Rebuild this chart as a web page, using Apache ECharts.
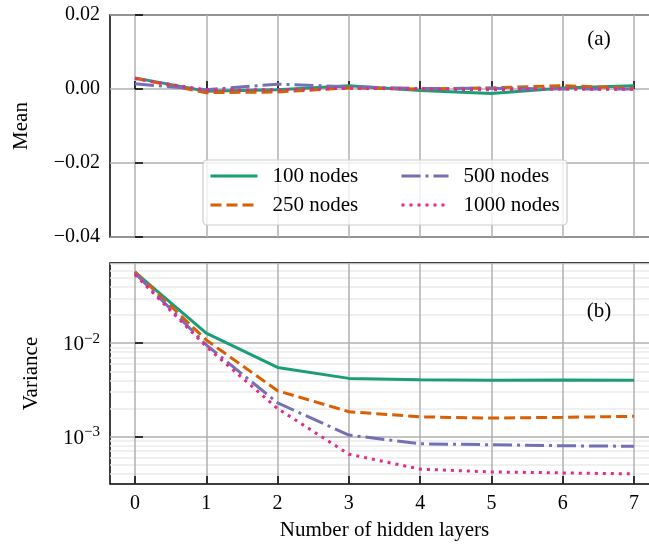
<!DOCTYPE html>
<html>
<head>
<meta charset="utf-8">
<script src="https://cdn.jsdelivr.net/npm/echarts@6/dist/echarts.min.js"></script>
<style>
html,body{margin:0;padding:0;background:#fff;}
#chart{width:649px;height:546px;}
</style>
</head>
<body>
<div id="chart"></div>
<script>
// ---- data ----
var seriesNames = ['100 nodes', '250 nodes', '500 nodes', '1000 nodes'];
var hiddenLayers = [0, 1, 2, 3, 4, 5, 6, 7];

var mean100  = [0.0030, -0.0006, -0.0002, 0.0009, -0.0004, -0.0012, 0.0003, 0.0009];
var mean250  = [0.0029, -0.0010, -0.0008, 0.0003, 0.0000, 0.0003, 0.0009, 0.0002];
var mean500  = [0.0014, -0.0002, 0.0013, 0.0006, 0.0001, 0.0002, 0.0000, 0.0000];
var mean1000 = [0.0028, -0.0003, -0.0002, 0.0002, 0.0000, -0.0002, 0.0000, -0.0001];

var var100  = [0.0575, 0.0128, 0.0055, 0.0042, 0.00405, 0.00402, 0.00404, 0.00401];
var var250  = [0.0580, 0.0108, 0.0031, 0.00185, 0.00163, 0.00158, 0.00161, 0.00165];
var var500  = [0.0560, 0.0096, 0.0023, 0.00104, 0.00084, 0.00082, 0.00080, 0.00079];
var var1000 = [0.0540, 0.0092, 0.0020, 0.00065, 0.00045, 0.00042, 0.00041, 0.00040];

var xTicks = [0, 1, 2, 3, 4, 5, 6, 7];
var meanTicks = [-0.04, -0.02, 0.00, 0.02];
var varMajorTicks = [0.001, 0.01];
var varMinorTicks = [0.0004, 0.0005, 0.0006, 0.0007, 0.0008, 0.0009,
                     0.002, 0.003, 0.004, 0.005, 0.006, 0.007, 0.008, 0.009,
                     0.02, 0.03, 0.04, 0.05, 0.06, 0.07];

// ---- styles ----
var colors = ['#1b9e77', '#d95f02', '#7570b3', '#e7298a'];
var dashes = ['solid', [11, 5], [19, 5, 3, 5], [3, 5]];
var FONT = 'Liberation Serif';
var LW = 3;
var TICK_FS = 20;
var NAME_FS = 21;

function pairs(vals) {
  return hiddenLayers.map(function (x, i) { return [x, vals[i]]; });
}
var meanData = [mean100, mean250, mean500, mean1000];
var varData = [var100, var250, var500, var1000];

var series = [];
seriesNames.forEach(function (n, i) {
  series.push({
    name: n, type: 'line', xAxisIndex: 0, yAxisIndex: 0,
    data: pairs(meanData[i]), symbol: 'none', z: 5,
    lineStyle: { color: colors[i], width: LW, type: dashes[i], cap: 'butt' },
    itemStyle: { color: colors[i] }
  });
});
seriesNames.forEach(function (n, i) {
  series.push({
    name: n, type: 'line', xAxisIndex: 1, yAxisIndex: 1,
    data: pairs(varData[i]), symbol: 'none', z: 5,
    lineStyle: { color: colors[i], width: LW, type: dashes[i], cap: 'butt' },
    itemStyle: { color: colors[i] }
  });
});

function fmtMean(v) {
  var s = Math.abs(v).toFixed(2);
  return (v < -1e-9 ? '\u2212' : '') + s;
}
function fmtLog(v) {
  var e = Math.round(Math.log(v) / Math.LN10);
  return '{b|10}{s|' + (e < 0 ? '\u2212' : '') + Math.abs(e) + '}';
}

var gridLine = { show: true, lineStyle: { color: '#b0b0b0', width: 1.5 } };
var tickIn = { show: true, inside: true, length: 8, lineStyle: { color: '#000', width: 1.5 } };

var xCommon = {
  type: 'value', min: -0.35, max: 7.35,
  axisLine: { show: false },
  axisTick: Object.assign({ customValues: xTicks }, tickIn),
  splitLine: gridLine
};

var legendCommon = {
  orient: 'vertical', top: 165.5, padding: 0, itemGap: 8, itemWidth: 47, itemHeight: 14,
  selectedMode: false, z: 10,
  itemStyle: { opacity: 0, borderWidth: 0 },
  lineStyle: { width: 3, cap: 'butt' },
  textStyle: { fontSize: 21, fontFamily: FONT, color: '#000', padding: [0, 0, 0, 10] }
};

var option = {
  animation: false,
  backgroundColor: '#fff',
  textStyle: { fontFamily: FONT, color: '#000' },
  grid: [
    { left: 110, right: -10, top: 15, height: 222, show: true, borderColor: '#000', borderWidth: 1.5, outerBoundsMode: 'none' },
    { left: 110, right: -10, top: 263, height: 221, show: true, borderColor: '#000', borderWidth: 1.5, outerBoundsMode: 'none' }
  ],
  xAxis: [
    Object.assign({}, xCommon, { gridIndex: 0, axisLabel: { show: false } }),
    Object.assign({}, xCommon, {
      gridIndex: 1,
      axisLabel: { show: true, customValues: xTicks, fontSize: TICK_FS, fontFamily: FONT, color: '#000', margin: 10 },
      name: 'Number of hidden layers', nameLocation: 'middle', nameGap: 36,
      nameTextStyle: { fontSize: NAME_FS, fontFamily: FONT, color: '#000' }
    })
  ],
  yAxis: [
    {
      type: 'value', gridIndex: 0, min: -0.04, max: 0.02, interval: 0.02,
      axisLine: { show: false },
      axisTick: tickIn,
      splitLine: gridLine,
      axisLabel: { formatter: fmtMean, fontSize: TICK_FS, fontFamily: FONT, color: '#000', margin: 10 },
      name: 'Mean', nameLocation: 'middle', nameGap: 78, nameRotate: 90,
      nameTextStyle: { fontSize: NAME_FS, fontFamily: FONT, color: '#000' }
    },
    {
      type: 'log', logBase: 10, gridIndex: 1, min: 0.000312, max: 0.0719,
      axisLine: { show: false },
      axisTick: Object.assign({ customValues: varMajorTicks }, tickIn),
      splitLine: gridLine,
      axisLabel: {
        customValues: varMajorTicks, formatter: fmtLog, margin: 10, color: '#000',
        rich: {
          b: { fontSize: 21, fontFamily: FONT, color: '#000', lineHeight: 24, verticalAlign: 'bottom' },
          s: { fontSize: 15, fontFamily: FONT, color: '#000', lineHeight: 15, verticalAlign: 'top' }
        }
      },
      name: 'Variance', nameLocation: 'middle', nameGap: 68, nameRotate: 90,
      nameTextStyle: { fontSize: NAME_FS, fontFamily: FONT, color: '#000' },
      z: 1
    },
    {
      type: 'log', logBase: 10, gridIndex: 1, min: 0.000312, max: 0.0719,
      axisLine: { show: false },
      axisTick: { show: true, inside: false, length: 5, customValues: varMinorTicks, lineStyle: { color: '#000', width: 1 } },
      axisLabel: { show: false },
      splitLine: { show: true, lineStyle: { color: '#ebebeb', width: 1.5 } },
      z: 0
    }
  ],
  legend: [
    Object.assign({}, legendCommon, { data: ['100 nodes', '250 nodes'], left: 209 }),
    Object.assign({}, legendCommon, { data: ['500 nodes', '1000 nodes'], left: 400 })
  ],
  graphic: [
    { type: 'rect', z: 8, shape: { x: 203, y: 160, width: 364, height: 65, r: 4 },
      style: { fill: 'rgba(255,255,255,0.8)', stroke: '#cccccc', lineWidth: 1.2 } },
    { type: 'text', z: 8, x: 599, y: 39, style: { text: '(a)', font: '21px "Liberation Serif"', fill: '#000', align: 'center', verticalAlign: 'middle' } },
    { type: 'text', z: 8, x: 599, y: 311, style: { text: '(b)', font: '21px "Liberation Serif"', fill: '#000', align: 'center', verticalAlign: 'middle' } }
  ],
  series: series
};

var chart = echarts.init(document.getElementById('chart'), null, { renderer: 'canvas' });
chart.setOption(option);
</script>
</body>
</html>
